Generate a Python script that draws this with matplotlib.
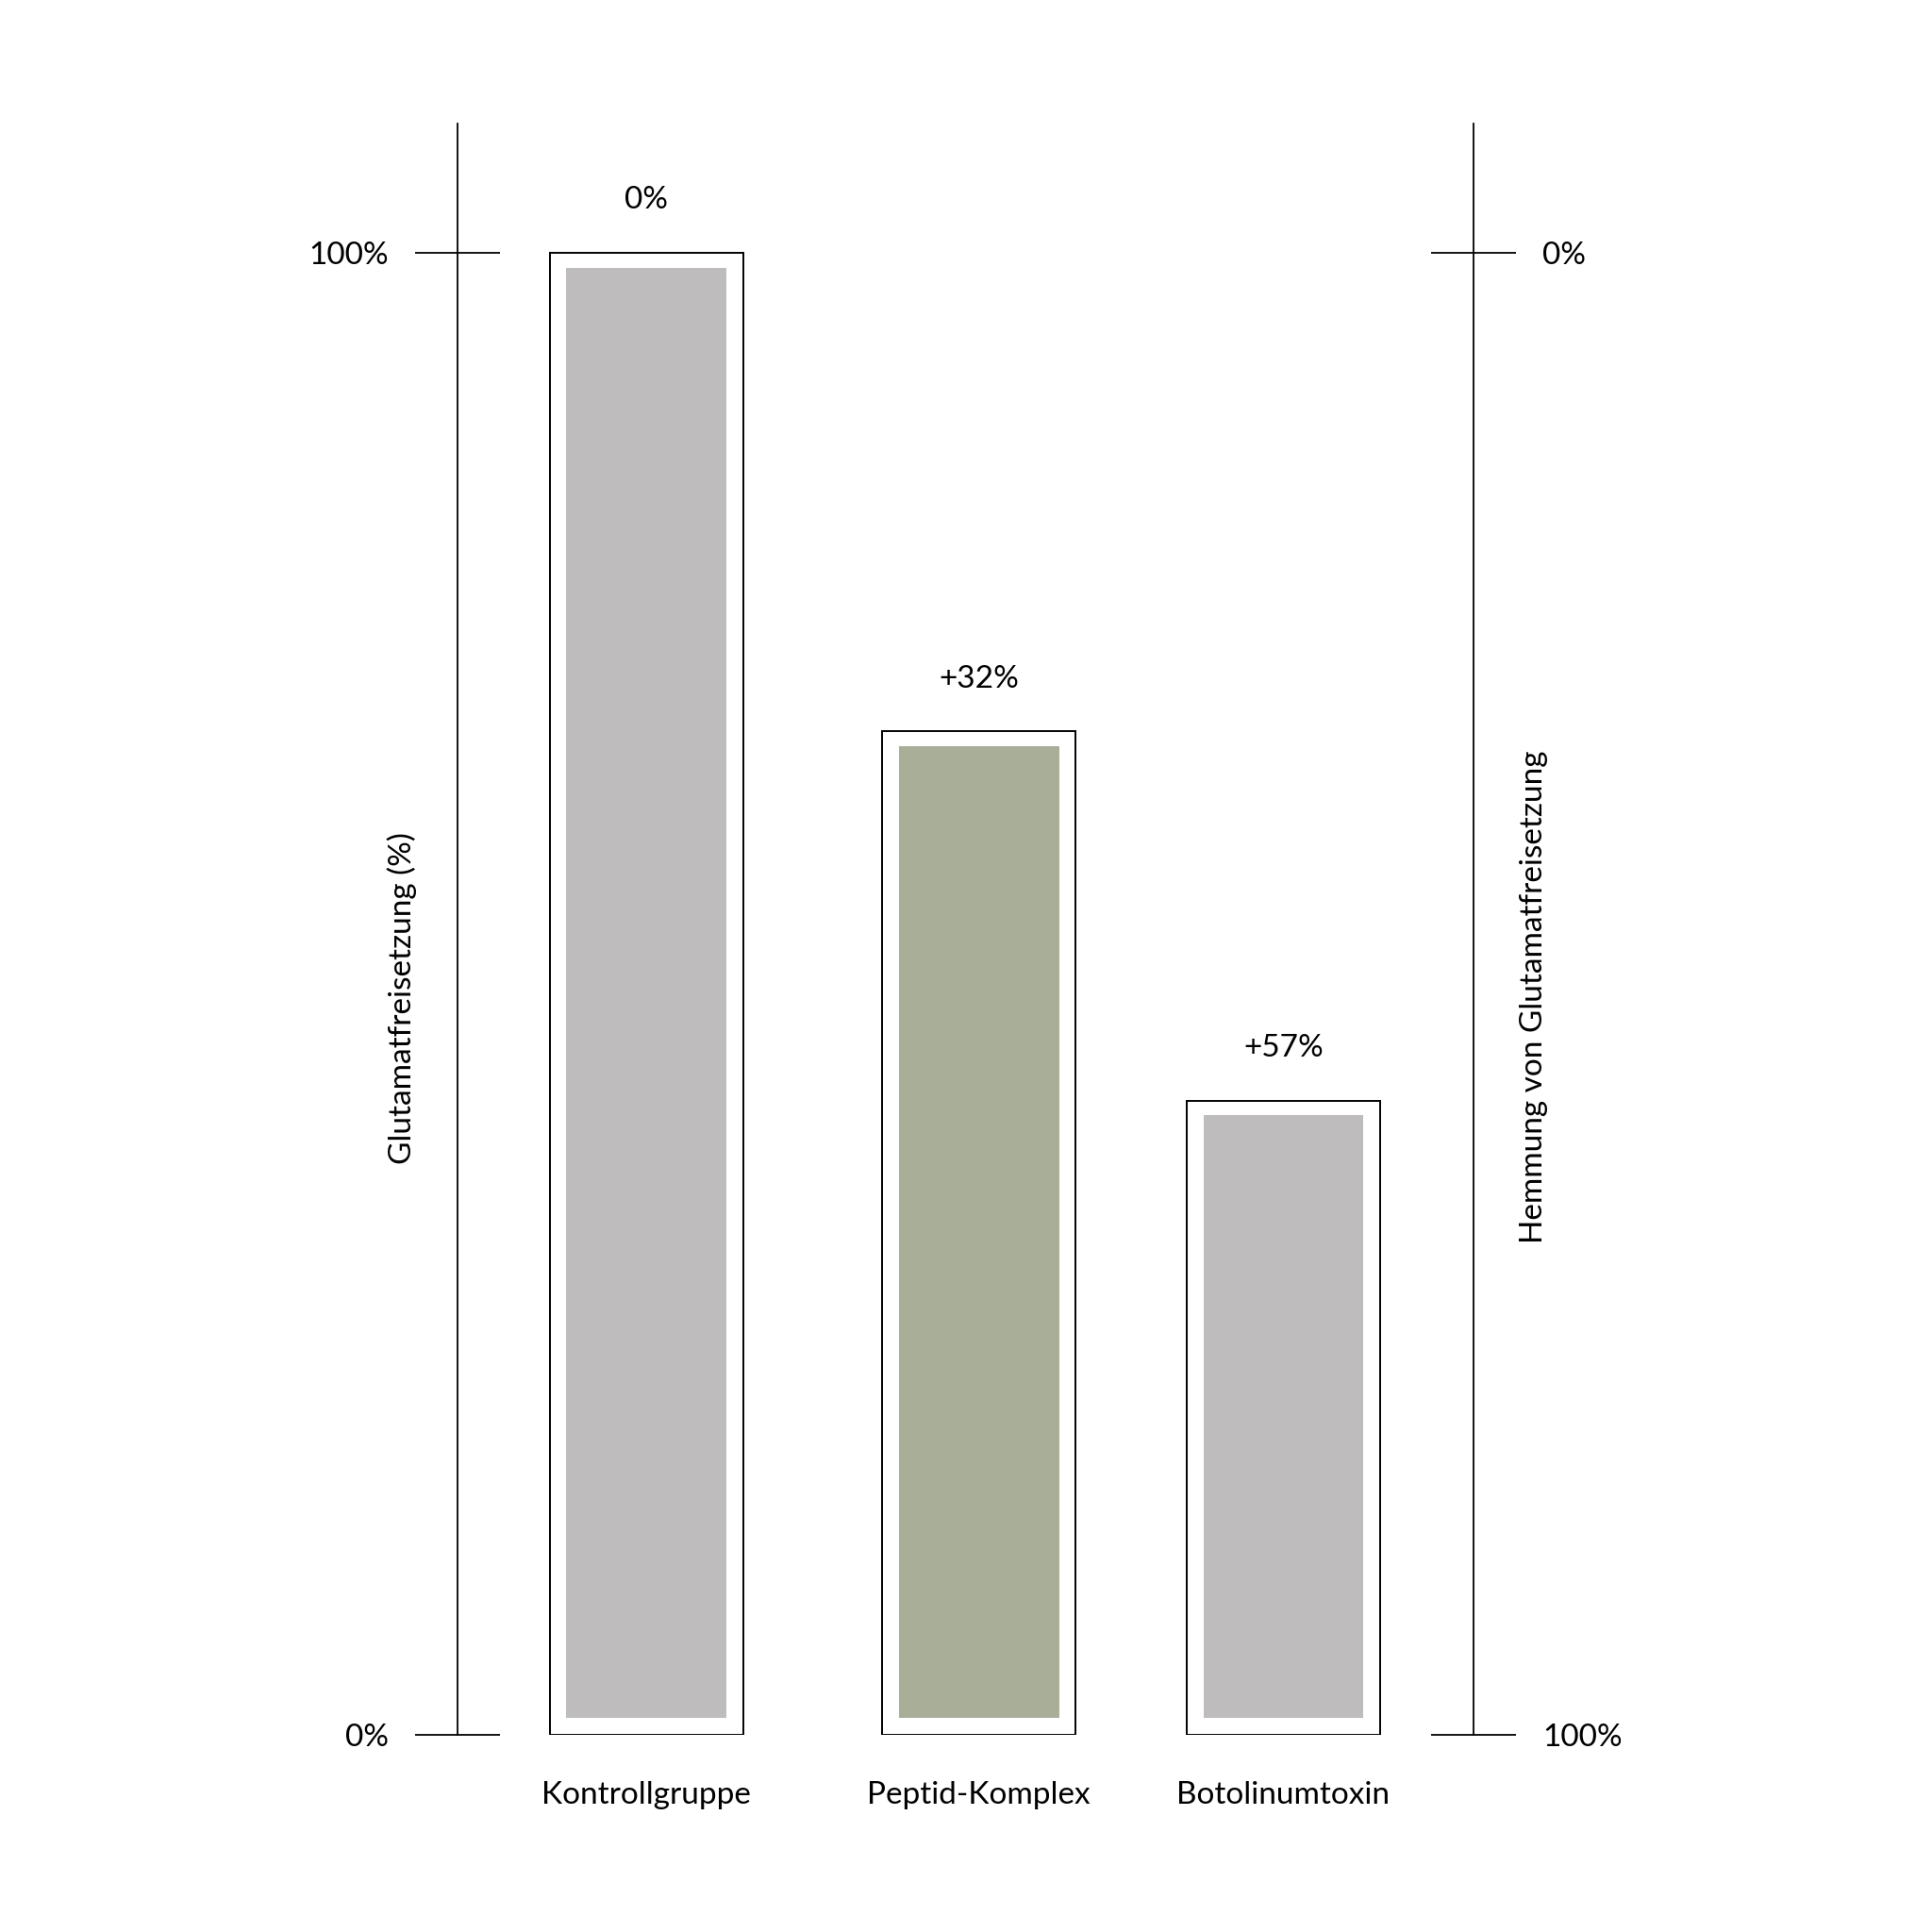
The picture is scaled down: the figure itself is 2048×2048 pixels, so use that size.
import matplotlib
matplotlib.use("Agg")
import matplotlib.pyplot as plt

plt.rcParams['font.family'] = ['Lato', 'DejaVu Sans']

categories = ["Kontrollgruppe", "Peptid-Komplex", "Botolinumtoxin"]
release = [100, 67.7, 42.8]
labels = ["0%", "+32%", "+57%"]
colors = ["#BFBCBD", "#A9AE98", "#BFBCBD"]
left_ticks = [0, 100]
left_ticklabels = ["0%", "100%"]
right_ticks = [0, 100]
right_ticklabels = ["0%", "100%"]

# layout
xpos = [0, 1, 1.915]
YMAX = 108.7
FS = 24

fig = plt.figure(figsize=(20.48, 20.48), dpi=100)
ax = fig.add_axes([0.2366, 0.1020, 0.5262, 0.7672 * YMAX / 100])
ax.set_xlim(-0.5685, 2.487)
ax.set_ylim(0, YMAX)

for x, v, c, lab in zip(xpos, release, colors, labels):
    ax.bar(x, v, width=0.5815, color="white", edgecolor="black", linewidth=1.4, zorder=2)
    ax.bar(x, v - 1.0 - 1.15, bottom=1.15, width=0.4815, color=c, linewidth=0, zorder=3)
    ax.annotate(lab, (x, v), xytext=(0, 40), textcoords="offset points",
                ha="center", va="center", fontsize=FS)

for s in ["top", "bottom"]:
    ax.spines[s].set_visible(False)
ax.spines["left"].set_linewidth(1.3)
ax.spines["right"].set_visible(False)

ax.set_yticks(left_ticks)
ax.set_yticklabels(left_ticklabels, fontsize=FS)
ax.tick_params(axis="y", direction="inout", length=65, width=1.3, pad=20)

ax.set_xticks(xpos)
ax.set_xticklabels(categories, fontsize=FS)
ax.tick_params(axis="x", length=0, pad=35)

ax2 = ax.twinx()
ax2.set_ylim(100, 100 - YMAX)
for s in ["top", "bottom", "left"]:
    ax2.spines[s].set_visible(False)
ax2.spines["right"].set_linewidth(1.3)
ax2.set_yticks(right_ticks)
ax2.set_yticklabels(right_ticklabels, fontsize=FS)
ax2.tick_params(axis="y", direction="inout", length=65, width=1.3, pad=20)

fig.text(0.2079, 0.4834, "Glutamatfreisetzung (%)", rotation=90, ha="center", va="center", fontsize=FS)
fig.text(0.7940, 0.4841, "Hemmung von Glutamatfreisetzung", rotation=90, ha="center", va="center", fontsize=FS)

fig.savefig("out.png", dpi=100, facecolor="white")
